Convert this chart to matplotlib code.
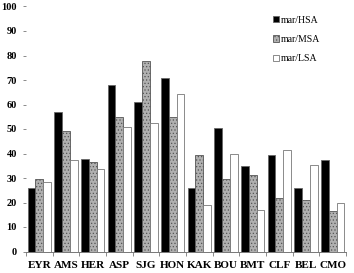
import numpy as np
import matplotlib.pyplot as plt

sites = ['EYR', 'AMS', 'HER', 'ASP', 'SJG', 'HON', 'KAK', 'BOU', 'BMT', 'CLF', 'BEL', 'CMO']
hsa = [26.1, 57.0, 37.7, 68.0, 61.1, 71.0, 26.1, 50.6, 34.7, 39.5, 26.0, 37.3]
msa = [29.4, 49.3, 36.7, 55.0, 77.6, 54.9, 39.3, 29.5, 31.4, 21.9, 21.1, 16.6]
lsa = [28.2, 37.4, 33.6, 51.0, 52.5, 64.2, 19.1, 39.7, 17.0, 41.5, 35.5, 19.9]
series_names = ['mar/HSA', 'mar/MSA', 'mar/LSA']

plt.rcParams['font.family'] = ['Liberation Serif', 'DejaVu Serif']
plt.rcParams['hatch.color'] = '#707070'
plt.rcParams['hatch.linewidth'] = 0.5

fig = plt.figure(figsize=(3.54, 2.73), dpi=100)
ax = fig.add_axes([26 / 354, 21.5 / 273, 320 / 354, 245 / 273])

x = np.arange(len(sites))
w = 0.29
ax.bar(x - w, hsa, w, color='black', edgecolor='#666666', linewidth=0.6, label=series_names[0])
ax.bar(x, msa, w, color='#b0b0b0', edgecolor='#555555', linewidth=0.6, hatch='.....', label=series_names[1])
ax.bar(x + w, lsa, w, color='white', edgecolor='#777777', linewidth=0.6, label=series_names[2])

ax.set_xlim(-0.5, len(sites) - 0.5)
ax.set_ylim(0, 100)
ax.set_yticks(range(0, 101, 10))
ax.set_yticklabels([str(v) for v in range(0, 101, 10)], fontsize=7.5, fontweight='bold')

# category labels in the middle, tick marks on the boundaries
ax.set_xticks(x)
ax.set_xticklabels(sites, fontsize=8, fontweight='bold')
ax.set_xticks(np.arange(-0.5, len(sites)), minor=True)
ax.tick_params(axis='x', which='major', length=0, pad=7)
ax.tick_params(axis='x', which='minor', length=3, width=0.6, color='#777777', direction='out')
ax.tick_params(axis='y', length=2.5, width=0.6, color='#777777', pad=4)

for s in ['top', 'right', 'left']:
    ax.spines[s].set_visible(False)
ax.spines['bottom'].set_color('#777777')
ax.spines['bottom'].set_linewidth(0.7)

ax.legend(loc='upper left', bbox_to_anchor=(0.745, 0.998), frameon=False, fontsize=7,
          handlelength=0.6, handleheight=0.6, handletextpad=0.2, labelspacing=1.05)

fig.savefig('out.png', dpi=100)
